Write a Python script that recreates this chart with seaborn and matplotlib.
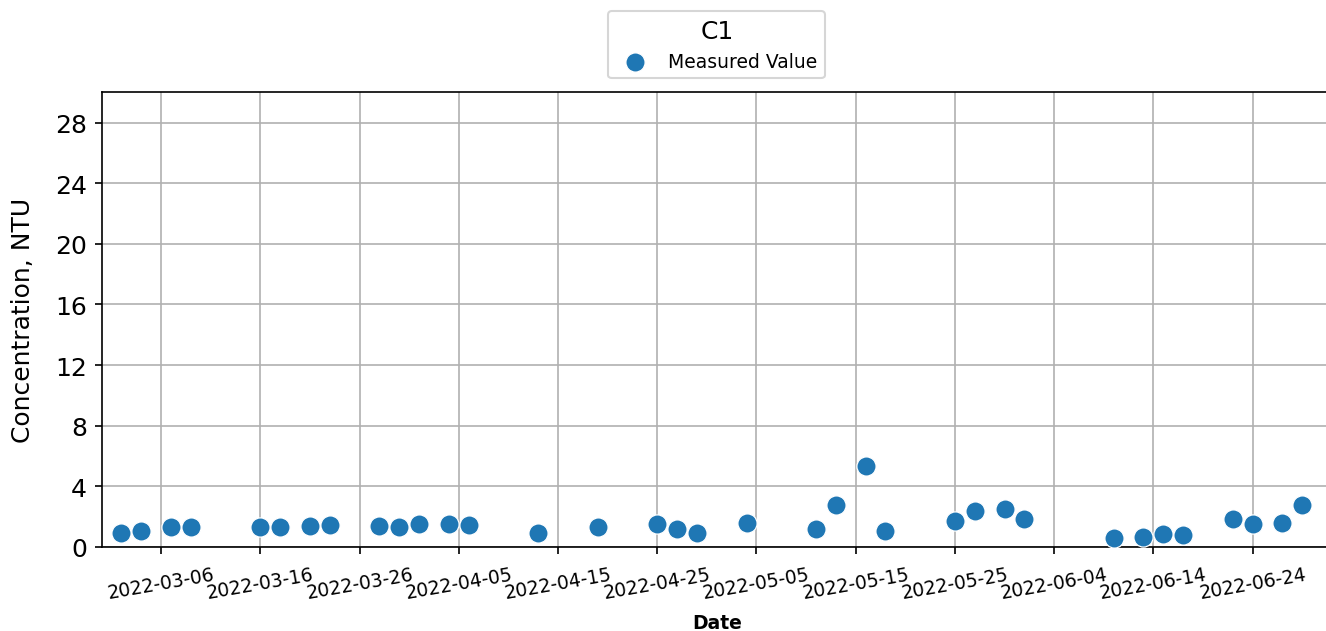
import matplotlib
matplotlib.use("Agg")
import matplotlib.pyplot as plt
import seaborn as sns
import pandas as pd

dates = ["2022-03-02", "2022-03-04", "2022-03-07", "2022-03-09", "2022-03-16",
         "2022-03-18", "2022-03-21", "2022-03-23", "2022-03-28", "2022-03-30",
         "2022-04-01", "2022-04-04", "2022-04-06", "2022-04-13", "2022-04-19",
         "2022-04-25", "2022-04-27", "2022-04-29", "2022-05-04", "2022-05-11",
         "2022-05-13", "2022-05-16", "2022-05-18", "2022-05-25", "2022-05-27",
         "2022-05-30", "2022-06-01", "2022-06-10", "2022-06-13", "2022-06-15",
         "2022-06-17", "2022-06-22", "2022-06-24", "2022-06-27", "2022-06-29"]
values = [0.92, 1.07, 1.29, 1.29, 1.31,
          1.31, 1.40, 1.45, 1.40, 1.31,
          1.49, 1.53, 1.45, 0.90, 1.34,
          1.51, 1.16, 0.90, 1.56, 1.18,
          2.74, 5.33, 1.03, 1.69, 2.35,
          2.48, 1.86, 0.61, 0.63, 0.88,
          0.79, 1.84, 1.49, 1.56, 2.76]
x_ticks = ["2022-03-06", "2022-03-16", "2022-03-26", "2022-04-05", "2022-04-15",
           "2022-04-25", "2022-05-05", "2022-05-15", "2022-05-25", "2022-06-04",
           "2022-06-14", "2022-06-24"]
y_ticks = [0, 4, 8, 12, 16, 20, 24, 28]
series_label = "Measured Value"
legend_title = "C1"

df = pd.DataFrame({"Date": pd.to_datetime(dates), "Value": values})

W, H = 1326, 632
fig = plt.figure(figsize=(W / 150, H / 150), dpi=150)
ax = fig.add_axes([101.5 / W, 1 - 548 / H, (1332 - 101.5) / W, (548 - 93.3) / H])

sns.scatterplot(data=df, x="Date", y="Value", ax=ax, s=85, color="#1f77b4",
                edgecolor="white", linewidth=0.6, label=series_label, zorder=3)

ax.set_xlim(pd.Timestamp("2022-02-28"), pd.Timestamp("2022-07-02"))
ax.set_ylim(0, 30)
ax.set_yticks(y_ticks)
ax.set_xticks(pd.to_datetime(x_ticks))
ax.set_xticklabels(x_ticks, rotation=10, ha="center", fontsize=9)
ax.tick_params(axis="y", labelsize=12)
ax.tick_params(axis="x", pad=5)
ax.grid(True, color="#b0b0b0", linewidth=0.8)
ax.set_axisbelow(True)
ax.set_xlabel("Date", fontsize=9, fontweight="bold", labelpad=5)
ax.set_ylabel("Concentration, NTU", fontsize=12, labelpad=9.5)

leg = ax.legend(title=legend_title, loc="lower center", bbox_to_anchor=(0.5, 1.01),
                fontsize=9, title_fontsize=12)

fig.savefig("out.png", dpi=150)
